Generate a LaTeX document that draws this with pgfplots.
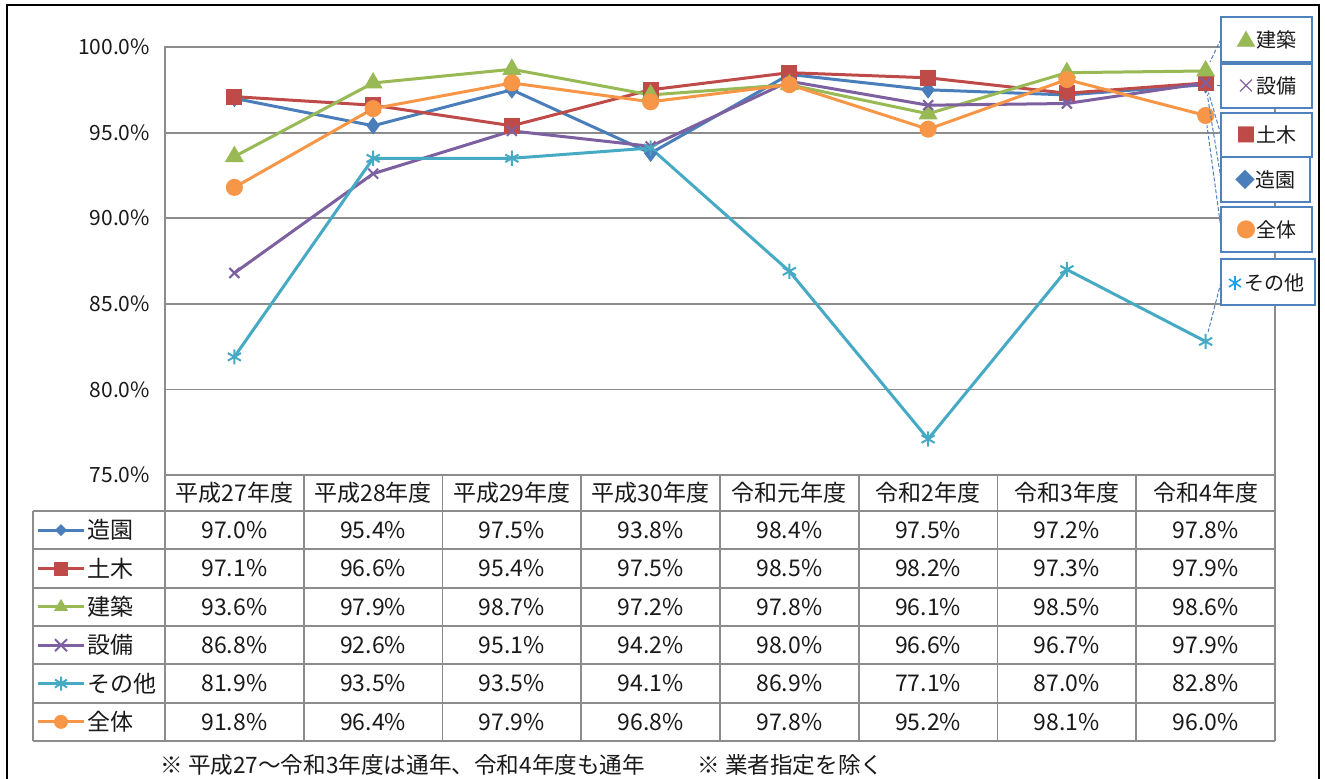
\documentclass[border=0pt]{standalone}
\usepackage{fontspec}
\setmainfont{Noto Sans CJK JP}
\usepackage{pgfplots}
\usepackage{pgfplotstable}
\pgfplotsset{compat=1.18}
\definecolor{cZ}{HTML}{4A7EBB}
\definecolor{cD}{HTML}{BE4B48}
\definecolor{cK}{HTML}{98B954}
\definecolor{cS}{HTML}{7D60A0}
\definecolor{cO}{HTML}{46AAC5}
\definecolor{cA}{HTML}{F79646}
\definecolor{gridc}{HTML}{8C8C8C}
\definecolor{boxc}{HTML}{4F81BD}
\definecolor{txt}{HTML}{1A1A1A}
\definecolor{astc}{HTML}{1EA0F0}
\pgfplotstableread{
x zoen doboku kenchiku setsubi sonota zentai
0 97.0 97.1 93.6 86.8 81.9 91.8
1 95.4 96.6 97.9 92.6 93.5 96.4
2 97.5 95.4 98.7 95.1 93.5 97.9
3 93.8 97.5 97.2 94.2 94.1 96.8
4 98.4 98.5 97.8 98.0 86.9 97.8
5 97.5 98.2 96.1 96.6 77.1 95.2
6 97.2 97.3 98.5 96.7 87.0 98.1
7 97.8 97.9 98.6 97.9 82.8 96.0
}\data
\begin{document}
\begin{tikzpicture}[x=0.5pt,y=-0.5pt]
\useasboundingbox (0,0) rectangle (1325,778);
\fill[white] (0,0) rectangle (1325,778);
\begin{axis}[
  at={(82.5pt,-23.5pt)}, anchor=north west,
  scale only axis, width=555pt, height=214pt,
  xmin=-0.5, xmax=7.5, ymin=75, ymax=100,
  xtick=\empty,
  ytick={75,80,85,90,95,100},
  yticklabels={75.0\%,80.0\%,85.0\%,90.0\%,95.0\%,100.0\%},
  yticklabel style={font=\fontsize{10.5}{12}\selectfont, text=txt, xshift=-4pt},
  major tick length=0pt,
  ymajorgrids, grid style={gridc, line width=0.9pt},
  axis line style={gridc, line width=0.9pt},
  clip=false,
  every axis plot/.append style={line width=1.5pt},
]
\addplot[cZ, mark=diamond*, mark size=3.2pt, mark options={solid,fill=cZ}] table[x=x,y=zoen]{\data};
\addplot[cD, mark=square*, mark size=3.3pt, mark options={solid,fill=cD}] table[x=x,y=doboku]{\data};
\addplot[cK, mark=triangle*, mark size=4pt, mark options={solid,fill=cK}] table[x=x,y=kenchiku]{\data};
\addplot[cS, mark=x, mark size=3.5pt, mark options={solid,line width=1pt}] table[x=x,y=setsubi]{\data};
\addplot[cO, mark=asterisk, mark size=3.8pt, mark options={solid,line width=1pt}] table[x=x,y=sonota]{\data};
\addplot[cA, mark=*, mark size=3.5pt, mark options={solid,fill=cA}] table[x=x,y=zentai]{\data};
\coordinate (pK) at (axis cs:7,98.6);
\coordinate (pS) at (axis cs:7,97.9);
\coordinate (pD) at (axis cs:7,97.9);
\coordinate (pZ) at (axis cs:7,97.8);
\coordinate (pA) at (axis cs:7,96.0);
\coordinate (pO) at (axis cs:7,82.8);
\end{axis}
% outer frame
\draw[black, line width=1pt] (7,790) -- (7,5) -- (1319,5) -- (1319,790);
% leader lines
\begin{scope}[boxc, line width=0.5pt, dash pattern=on 2pt off 1pt, shorten >=5pt]
\draw (1221,39) -- (pK);
\draw (1221,86) -- (pS);
\draw (1221,135) -- (pD);
\draw (1221,179) -- (pZ);
\draw (1221,229) -- (pA);
\draw (1221,282) -- (pO);
\end{scope}
% callout boxes
\begin{scope}[every node/.style={font=\fontsize{10}{12}\selectfont, text=txt}]
\filldraw[draw=boxc, fill=white, line width=0.9pt] (1221,17) rectangle (1312,62);
\node at (1266.5,39.5) {{\color{cK}▲}建築};
\filldraw[draw=boxc, fill=white, line width=0.9pt] (1221,64) rectangle (1312,108);
\node at (1266.5,86) {{\color{cS}×}設備};
\filldraw[draw=boxc, fill=white, line width=0.9pt] (1221,113) rectangle (1312,157);
\node at (1266.5,135) {{\color{cD}■}土木};
\filldraw[draw=boxc, fill=white, line width=0.9pt] (1221,157) rectangle (1310,202);
\node at (1265.5,179.5) {{\color{cZ}◆}造園};
\filldraw[draw=boxc, fill=white, line width=0.9pt] (1221,207) rectangle (1312,252);
\node at (1266.5,229.5) {{\color{cA}●}全体};
\filldraw[draw=boxc, fill=white, line width=0.9pt] (1221,259) rectangle (1315,305);
\node[anchor=west, inner sep=0pt] at (1244,283) {その他};
\draw[astc, line width=0.8pt] (1235,276) -- (1235,290) (1229,279) -- (1241,287) (1229,287) -- (1241,279);
\end{scope}
% data table
\begin{scope}[gridc, line width=0.9pt]
\foreach \yy in {511,549.33,587.67,626,664.33,702.67,741} {\draw (33,\yy) -- (1275,\yy);}
\draw (33,511) -- (33,741);
\foreach \k in {0,...,8} {\draw ({165+138.75*\k},475) -- ({165+138.75*\k},741);}
\end{scope}
\begin{scope}[every node/.style={font=\fontsize{11.5}{13}\selectfont, text=txt, inner sep=0pt}]
\foreach \h [count=\k from 0] in {平成27年度,平成28年度,平成29年度,平成30年度,令和元年度,令和2年度,令和3年度,令和4年度}
  {\node at ({165+138.75*(\k+0.5)},493) {\h};}
\foreach \col/\nm [count=\r from 0] in {zoen/造園,doboku/土木,kenchiku/建築,setsubi/設備,sonota/その他,zentai/全体} {
  \node[anchor=west] at (87,{511+38.333*(\r+0.5)}) {\nm};
  \foreach \c in {0,...,7} {
    \pgfplotstablegetelem{\c}{\col}\of\data
    \node at ({165+138.75*(\c+0.5)},{511+38.333*(\r+0.5)}) {\pgfplotsretval\%};
  }
}
\end{scope}
% legend keys in the table
\def\ky#1{511+38.333*(#1+0.5)}
\draw[cZ, line width=1.5pt] (38,{\ky0}) -- (84,{\ky0});
\fill[cZ] (61,{\ky0-6}) -- (67,{\ky0}) -- (61,{\ky0+6}) -- (55,{\ky0}) -- cycle;
\draw[cD, line width=1.5pt] (38,{\ky1}) -- (84,{\ky1});
\fill[cD] (54,{\ky1-7}) rectangle (68,{\ky1+7});
\draw[cK, line width=1.5pt] (38,{\ky2}) -- (84,{\ky2});
\fill[cK] (61,{\ky2-8}) -- (68,{\ky2+4}) -- (54,{\ky2+4}) -- cycle;
\draw[cS, line width=1.5pt] (38,{\ky3}) -- (84,{\ky3});
\draw[cS, line width=1pt] (55,{\ky3-6}) -- (67,{\ky3+6}) (55,{\ky3+6}) -- (67,{\ky3-6});
\draw[cO, line width=1.5pt] (38,{\ky4}) -- (84,{\ky4});
\draw[cO, line width=1pt] (61,{\ky4-7}) -- (61,{\ky4+7}) (55,{\ky4-4}) -- (67,{\ky4+4}) (55,{\ky4+4}) -- (67,{\ky4-4});
\draw[cA, line width=1.5pt] (38,{\ky5}) -- (84,{\ky5});
\fill[cA] (61,{\ky5}) circle (7);
% note
\node[anchor=west, inner sep=0pt, font=\fontsize{11.3}{13}\selectfont, text=txt] at (160,765) {※ 平成27～令和3年度は通年、令和4年度も通年};
\node[anchor=west, inner sep=0pt, font=\fontsize{11.3}{13}\selectfont, text=txt] at (697,765) {※ 業者指定を除く};
\end{tikzpicture}
\end{document}
